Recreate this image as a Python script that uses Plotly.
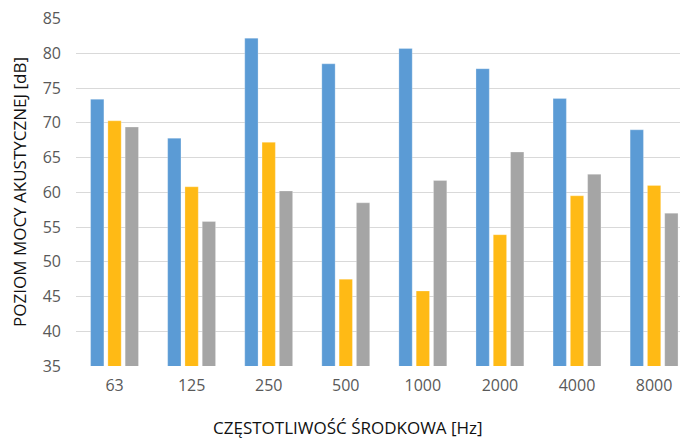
import plotly.graph_objects as go

categories = ["63", "125", "250", "500", "1000", "2000", "4000", "8000"]
series_1 = [73.4, 67.8, 82.2, 78.5, 80.7, 77.8, 73.5, 69.0]
series_2 = [70.3, 60.8, 67.2, 47.5, 45.8, 53.9, 59.5, 61.0]
series_3 = [69.4, 55.8, 60.2, 58.5, 61.7, 65.8, 62.6, 57.0]
y_ticks = [35, 40, 45, 50, 55, 60, 65, 70, 75, 80, 85]
x_title = "CZĘSTOTLIWOŚĆ ŚRODKOWA [Hz]"
y_title = "POZIOM MOCY AKUSTYCZNEJ [dB]"

colors = ["#5B9BD5", "#FFBA15", "#A5A5A5"]

fig = go.Figure()
for vals, c, name in zip([series_1, series_2, series_3], colors, ["S1", "S2", "S3"]):
    fig.add_trace(go.Bar(
        x=categories, y=vals, name=name,
        marker=dict(color=c, line=dict(color="rgba(255,255,255,0.5)", width=0.5)),
        showlegend=False,
    ))

fig.add_annotation(
    text=x_title, xref="paper", yref="paper", x=0.444, y=-0.178,
    xanchor="center", yanchor="middle", showarrow=False,
    font=dict(family="Open Sans", size=17, color="#111111", weight=500),
)

fig.update_layout(
    width=680, height=430,
    margin=dict(l=68, r=0, t=10, b=72),
    paper_bgcolor="white", plot_bgcolor="white",
    barmode="group", bargap=0.327, bargroupgap=0.23,
    font=dict(family="Open Sans", color="#595959", size=16),
    xaxis=dict(
        type="category", showgrid=False, ticks="", showline=False,
        range=[-0.5, 7.44],
        automargin=False, ticklabelstandoff=8,
        tickfont=dict(size=16, color="#595959"),
    ),
    yaxis=dict(
        range=[35, 85.1], tickvals=y_ticks, showgrid=True, gridcolor="#D9D9D9",
        gridwidth=1, zeroline=False, ticks="", showline=False,
        automargin=False, ticklabelstandoff=14, ticklabeloverflow="allow",
        tickfont=dict(size=16, color="#595959"),
        title=dict(text=y_title,
                   font=dict(family="Open Sans", size=17, color="#111111", weight=500),
                   standoff=14),
    ),
)

fig.write_html("out.html")
